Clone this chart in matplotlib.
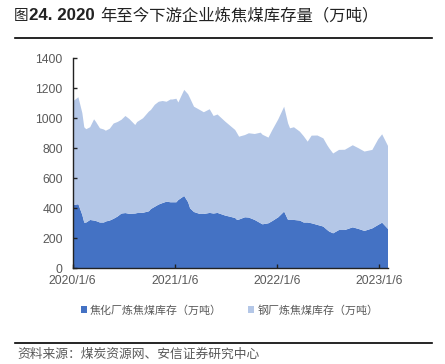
import matplotlib
matplotlib.use("Agg")
import matplotlib.pyplot as plt
import pandas as pd
from matplotlib.lines import Line2D
from matplotlib.patches import Patch

plt.rcParams['font.family'] = ['Liberation Sans', 'Noto Sans CJK SC', 'DejaVu Sans']

dates = ["2020-01-06", "2020-01-20", "2020-01-27", "2020-02-10", "2020-02-17", "2020-02-24",
         "2020-03-09", "2020-03-23", "2020-03-30", "2020-04-13", "2020-04-27", "2020-05-04",
         "2020-05-18", "2020-06-01", "2020-06-15", "2020-06-29", "2020-07-13", "2020-07-27",
         "2020-08-17", "2020-08-24", "2020-09-14", "2020-10-05", "2020-10-12", "2020-10-26",
         "2020-11-09", "2020-11-23", "2020-12-07", "2020-12-21", "2020-12-28", "2021-01-11",
         "2021-01-18", "2021-02-08", "2021-02-22", "2021-03-01", "2021-03-15", "2021-04-05",
         "2021-04-19", "2021-05-10", "2021-05-24", "2021-06-07", "2021-07-05", "2021-07-19",
         "2021-08-09", "2021-08-16", "2021-08-23", "2021-09-13", "2021-09-27", "2021-10-18",
         "2021-11-08", "2021-11-15", "2021-12-06", "2021-12-20", "2022-01-10", "2022-01-31",
         "2022-02-14", "2022-02-21", "2022-03-07", "2022-03-28", "2022-04-11", "2022-04-25",
         "2022-05-09", "2022-05-30", "2022-06-20", "2022-07-04", "2022-07-11", "2022-07-25",
         "2022-08-15", "2022-09-05", "2022-10-03", "2022-10-24", "2022-11-14", "2022-12-12",
         "2023-01-02", "2023-01-16", "2023-02-06"]

total_stock = [1110, 1130, 1140, 1035, 940, 927,
               940, 993, 975, 933, 925, 917,
               930, 965, 975, 990, 1015, 995,
               955, 975, 1000, 1045, 1055, 1090,
               1110, 1115, 1110, 1125, 1125, 1130,
               1105, 1189, 1160, 1133, 1077, 1055,
               1040, 1060, 1015, 1025, 977, 955,
               922, 900, 877, 888, 900, 895,
               904, 890, 871, 922, 993, 1077,
               966, 933, 940, 911, 880, 844,
               884, 885, 866, 820, 800, 765,
               789, 790, 820, 800, 778, 789,
               860, 893, 815]

coking_plant = [420, 425, 427, 355, 304, 305,
                322, 318, 315, 305, 305, 312,
                318, 330, 345, 365, 368, 363,
                365, 368, 370, 380, 395, 410,
                425, 435, 444, 440, 440, 440,
                455, 482, 440, 400, 375, 362,
                362, 369, 365, 369, 351, 345,
                335, 322, 325, 340, 338, 322,
                300, 293, 300, 315, 340, 378,
                322, 322, 322, 318, 305, 305,
                300, 289, 278, 255, 245, 233,
                255, 255, 273, 262, 249, 266,
                289, 304, 262]

steel_plant = [t - c for t, c in zip(total_stock, coking_plant)]

series_names = ["焦化厂炼焦煤库存（万吨）", "钢厂炼焦煤库存（万吨）"]
colors = ["#4472C4", "#B4C7E7"]
xtick_labels = ["2020/1/6", "2021/1/6", "2022/1/6", "2023/1/6"]
yticks = [0, 200, 400, 600, 800, 1000, 1200, 1400]

x = pd.to_datetime(dates)
xticks = pd.to_datetime([s.replace("/", "-") for s in xtick_labels])

fig = plt.figure(figsize=(4.45, 3.64), dpi=100)
ax = fig.add_axes([0.163, 0.263, 0.709, 0.577])
ax.stackplot(x, coking_plant, steel_plant, colors=colors, linewidth=0)
ax.set_xlim(x[0], x[-1])
ax.set_ylim(0, 1400)
ax.set_yticks(yticks)
ax.set_xticks(xticks)
ax.set_xticklabels(xtick_labels)
for s in ["top", "right"]:
    ax.spines[s].set_visible(False)
for s in ["left", "bottom"]:
    ax.spines[s].set_color("#222222")
    ax.spines[s].set_linewidth(1.0)
ax.tick_params(direction="in", length=3, width=1, colors="#222222", labelcolor="#595959",
               labelsize=8.7)
ax.tick_params(axis="x", pad=5)
ax.tick_params(axis="y", pad=7)

cjk = ['Noto Sans CJK SC', 'DejaVu Sans']
handles = [Patch(facecolor=c, edgecolor='none') for c in colors]
leg = fig.legend(handles, series_names, loc="center", bbox_to_anchor=(0.516, 0.148), ncol=2,
                 frameon=False, handlelength=0.55, handleheight=0.55, handletextpad=0.3,
                 columnspacing=2.4, prop={'family': cjk, 'size': 7.9})
for t in leg.get_texts():
    t.set_color("#595959")

# title in pieces: regular CJK, bold numerals
title_parts = [("图", 'normal', 10.5, 14), ("24. 2020", 'bold', 12.2, 29),
               ("年至今下游企业炼焦煤库存量（万吨）", 'normal', 11.8, 100)]
for txt, wt, fs, px in title_parts:
    fig.text(px / 445, 0.957, txt, fontsize=fs, family=['Liberation Sans', 'Noto Sans CJK SC'],
             fontweight=wt, color="#222222", va="center", ha="left")

fig.add_artist(Line2D([15 / 445, 432 / 445], [1 - 37.5 / 364] * 2, color="black", linewidth=1.2,
                      transform=fig.transFigure))
fig.add_artist(Line2D([15 / 445, 432 / 445], [1 - 342.7 / 364] * 2, color="black", linewidth=1.2,
                      transform=fig.transFigure))
fig.text(17 / 445, 1 - 354 / 364, "资料来源：煤炭资源网、安信证券研究中心", fontsize=9.2,
         family=cjk, color="#595959", va="center", ha="left")

fig.savefig("out.png", dpi=100)
